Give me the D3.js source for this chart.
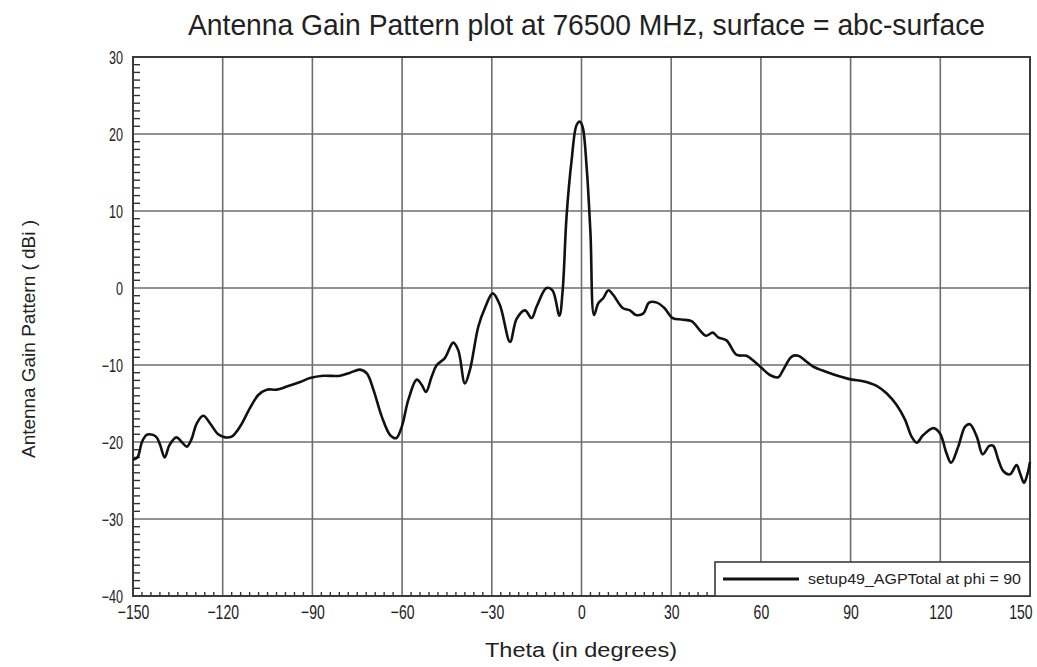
<!DOCTYPE html>
<html>
<head>
<meta charset="utf-8">
<script src="https://cdn.jsdelivr.net/npm/d3@7/dist/d3.min.js"></script>
<style>
  html, body { margin: 0; padding: 0; background: #fff; }
  svg { display: block; }
  text { font-family: "Liberation Sans", "DejaVu Sans", sans-serif; fill: #222; }
</style>
</head>
<body>
<svg id="chart" width="1037" height="667"></svg>
<script>
// Antenna gain pattern, phi = 90 cut
const theta = [
  -150, -148.5, -147, -145.5, -144.5, -142.3, -141, -139.4, -137.8, -135.5,
  -133.7, -132, -130.4, -128.7, -126.5, -124.2, -121.5, -119.2, -117, -114.2,
  -110.9, -108.1, -105.3, -101.9, -98.6, -94.1, -90.8, -86.4, -80.8, -77.4,
  -74.1, -71.8, -69.6, -66.8, -64.0, -62.0, -60.1, -57.9, -55.1, -53.4,
  -52, -50.1, -48.4, -45.7, -42.9, -41.2, -39, -37.3, -34.5, -32.3,
  -29.7, -27.3, -23.9, -21.7, -18.9, -16.7, -15, -11.7, -9.7, -7.4,
  -6.3, -5.0, -3.3, -1.6, -0.5, 0.4, 1.7, 3.0, 4.2, 5.6,
  7.3, 9.0, 10.6, 13.8, 16.2, 18.2, 20.7, 22.6, 25.2, 27.7,
  30.5, 33.5, 36.8, 39.6, 41.6, 43.9, 45.7, 48.5, 51.9, 55.2,
  58, 60.3, 63, 65.8, 67.5, 70.3, 72.5, 74.7, 77.5, 82,
  86.5, 90.4, 94.2, 98.7, 102.1, 105.4, 108.2, 110.4, 112.1, 114.3,
  117.7, 119.9, 122.1, 123.6, 126, 128.3, 129.9, 132.2, 134.2, 136.4,
  137.7, 139.4, 141.1, 143.3, 145.5, 146.7, 148, 148.9, 150
];
const gainDbi = [
  -22.3, -22.0, -20.0, -19.1, -19.0, -19.3, -20.3, -22.0, -20.4, -19.4,
  -20.0, -20.6, -19.6, -17.6, -16.6, -17.6, -19.0, -19.4, -19.3, -18.0,
  -15.6, -13.9, -13.2, -13.2, -12.8, -12.2, -11.7, -11.4, -11.4, -11.0,
  -10.6, -11.1, -13.2, -16.7, -19.1, -19.5, -18.0, -14.5, -11.9, -12.6,
  -13.5, -11.5, -10.0, -9.1, -7.1, -8.1, -12.4, -10.6, -5.0, -2.6,
  -0.7, -2.2, -7.0, -4.0, -2.9, -3.9, -2.4, 0.0, -0.3, -3.6,
  -0.3, 9.3, 16.6, 21.2, 21.6, 20.9, 15.8, 7.1, -3.5, -2.0,
  -1.3, -0.3, -0.9, -2.6, -2.9, -3.5, -3.3, -1.9, -1.9, -2.6,
  -3.9, -4.1, -4.3, -5.5, -6.2, -5.8, -6.4, -6.8, -8.7, -8.8,
  -9.6, -10.4, -11.3, -11.6, -10.6, -8.9, -8.8, -9.4, -10.2, -10.9,
  -11.5, -11.9, -12.1, -12.7, -13.7, -15.2, -17.1, -19.3, -20.1, -19.1,
  -18.2, -18.9, -21.5, -22.7, -20.6, -18.0, -17.7, -19.3, -21.6, -20.5,
  -20.5, -22.3, -23.8, -24.2, -23.0, -24.1, -25.3, -24.5, -22.6
];

const xTicks = [-150, -120, -90, -60, -30, 0, 30, 60, 90, 120, 150];
const yTicks = [-40, -30, -20, -10, 0, 10, 20, 30];

const titleText = "Antenna Gain Pattern plot at 76500 MHz, surface = abc-surface";
const xLabel = "Theta (in degrees)";
const yLabel = "Antenna Gain Pattern ( dBi )";
const legendLabel = "setup49_AGPTotal at phi = 90";

const svg = d3.select("#chart");
const W = 1037, H = 667;
const m = { left: 133, right: 7, top: 57, bottom: 71 };
const x = d3.scaleLinear().domain([-150, 150]).range([m.left, W - m.right]);
const y = d3.scaleLinear().domain([-40, 30]).range([H - m.bottom, m.top]);

// major grid
const grid = svg.append("g").attr("stroke", "#6e6e6e").attr("stroke-width", 1.6);
grid.selectAll("line.v").data(xTicks.slice(1, -1)).join("line")
  .attr("x1", d => x(d)).attr("x2", d => x(d))
  .attr("y1", y(30)).attr("y2", y(-40));
grid.selectAll("line.h").data(yTicks.slice(1, -1)).join("line")
  .attr("x1", x(-150)).attr("x2", x(150))
  .attr("y1", d => y(d)).attr("y2", d => y(d));

// minor ticks on left (1 dB) and bottom (3 deg), drawn inward
const yMinor = d3.range(-40, 30.001, 1).filter(v => v % 10 !== 0);
const xMinor = d3.range(-150, 150.001, 3).filter(v => v % 30 !== 0);
const minor = svg.append("g").attr("stroke", "#333").attr("stroke-width", 1.4);
minor.selectAll("line.ym").data(yMinor).join("line")
  .attr("x1", x(-150)).attr("x2", x(-150) + 7)
  .attr("y1", d => y(d)).attr("y2", d => y(d));
minor.selectAll("line.xm").data(xMinor).join("line")
  .attr("x1", d => x(d)).attr("x2", d => x(d))
  .attr("y1", y(-40)).attr("y2", y(-40) - 4);

// frame
svg.append("rect")
  .attr("x", x(-150)).attr("y", y(30))
  .attr("width", x(150) - x(-150)).attr("height", y(-40) - y(30))
  .attr("fill", "none").attr("stroke", "#3a3a3a").attr("stroke-width", 2);

// axes tick labels, narrow lettering
const xAxis = d3.axisBottom(x).tickValues(xTicks).tickSize(0).tickFormat(d3.format("d"));
const gx = svg.append("g").attr("transform", `translate(0,${y(-40)})`).call(xAxis)
  .attr("font-size", 20).attr("font-family", null);
gx.select(".domain").remove();
gx.selectAll("text")
  .attr("y", 0).attr("dy", 0).attr("x", 0)
  .attr("fill", "#222")
  .attr("text-anchor", d => d === 150 ? "end" : "middle")
  .attr("transform", d => `translate(${d === 150 ? 2 : 0},23) scale(0.7,1)`);

const yAxis = d3.axisLeft(y).tickValues(yTicks).tickSize(0).tickFormat(d3.format("d"));
const gy = svg.append("g").attr("transform", `translate(${x(-150)},0)`).call(yAxis)
  .attr("font-size", 18).attr("font-family", null);
gy.select(".domain").remove();
gy.selectAll("text")
  .attr("x", 0).attr("dy", 0)
  .attr("fill", "#222")
  .attr("transform", "translate(-10,6) scale(0.7,1)")
  .attr("text-anchor", "end");

// gain curve
const pts = theta.map((t, i) => [t, gainDbi[i]]);
const line = d3.line()
  .x(d => x(d[0])).y(d => y(d[1]))
  .curve(d3.curveCatmullRom.alpha(0.5));
svg.append("path").datum(pts)
  .attr("d", line)
  .attr("fill", "none").attr("stroke", "#111").attr("stroke-width", 2.6)
  .attr("stroke-linejoin", "round");

// legend
const lg = svg.append("g");
lg.append("rect")
  .attr("x", 715).attr("y", 562).attr("width", x(150) - 715).attr("height", y(-40) - 562)
  .attr("fill", "#fff").attr("stroke", "#3a3a3a").attr("stroke-width", 1.6);
lg.append("line")
  .attr("x1", 723).attr("x2", 799).attr("y1", 579).attr("y2", 579)
  .attr("stroke", "#111").attr("stroke-width", 3);
lg.append("text")
  .attr("x", 808).attr("y", 584)
  .attr("textLength", 213).attr("lengthAdjust", "spacingAndGlyphs")
  .style("font-size", "15px")
  .text(legendLabel);

// title and axis titles
svg.append("text")
  .attr("x", 188).attr("y", 35)
  .attr("textLength", 797).attr("lengthAdjust", "spacingAndGlyphs")
  .style("font-size", "29px")
  .text(titleText);

svg.append("text")
  .attr("x", 485).attr("y", 657)
  .attr("textLength", 192).attr("lengthAdjust", "spacingAndGlyphs")
  .style("font-size", "20px")
  .text(xLabel);

svg.append("text")
  .attr("transform", "translate(35,458) rotate(-90)")
  .attr("textLength", 238).attr("lengthAdjust", "spacingAndGlyphs")
  .style("font-size", "19px")
  .text(yLabel);
</script>
</body>
</html>
